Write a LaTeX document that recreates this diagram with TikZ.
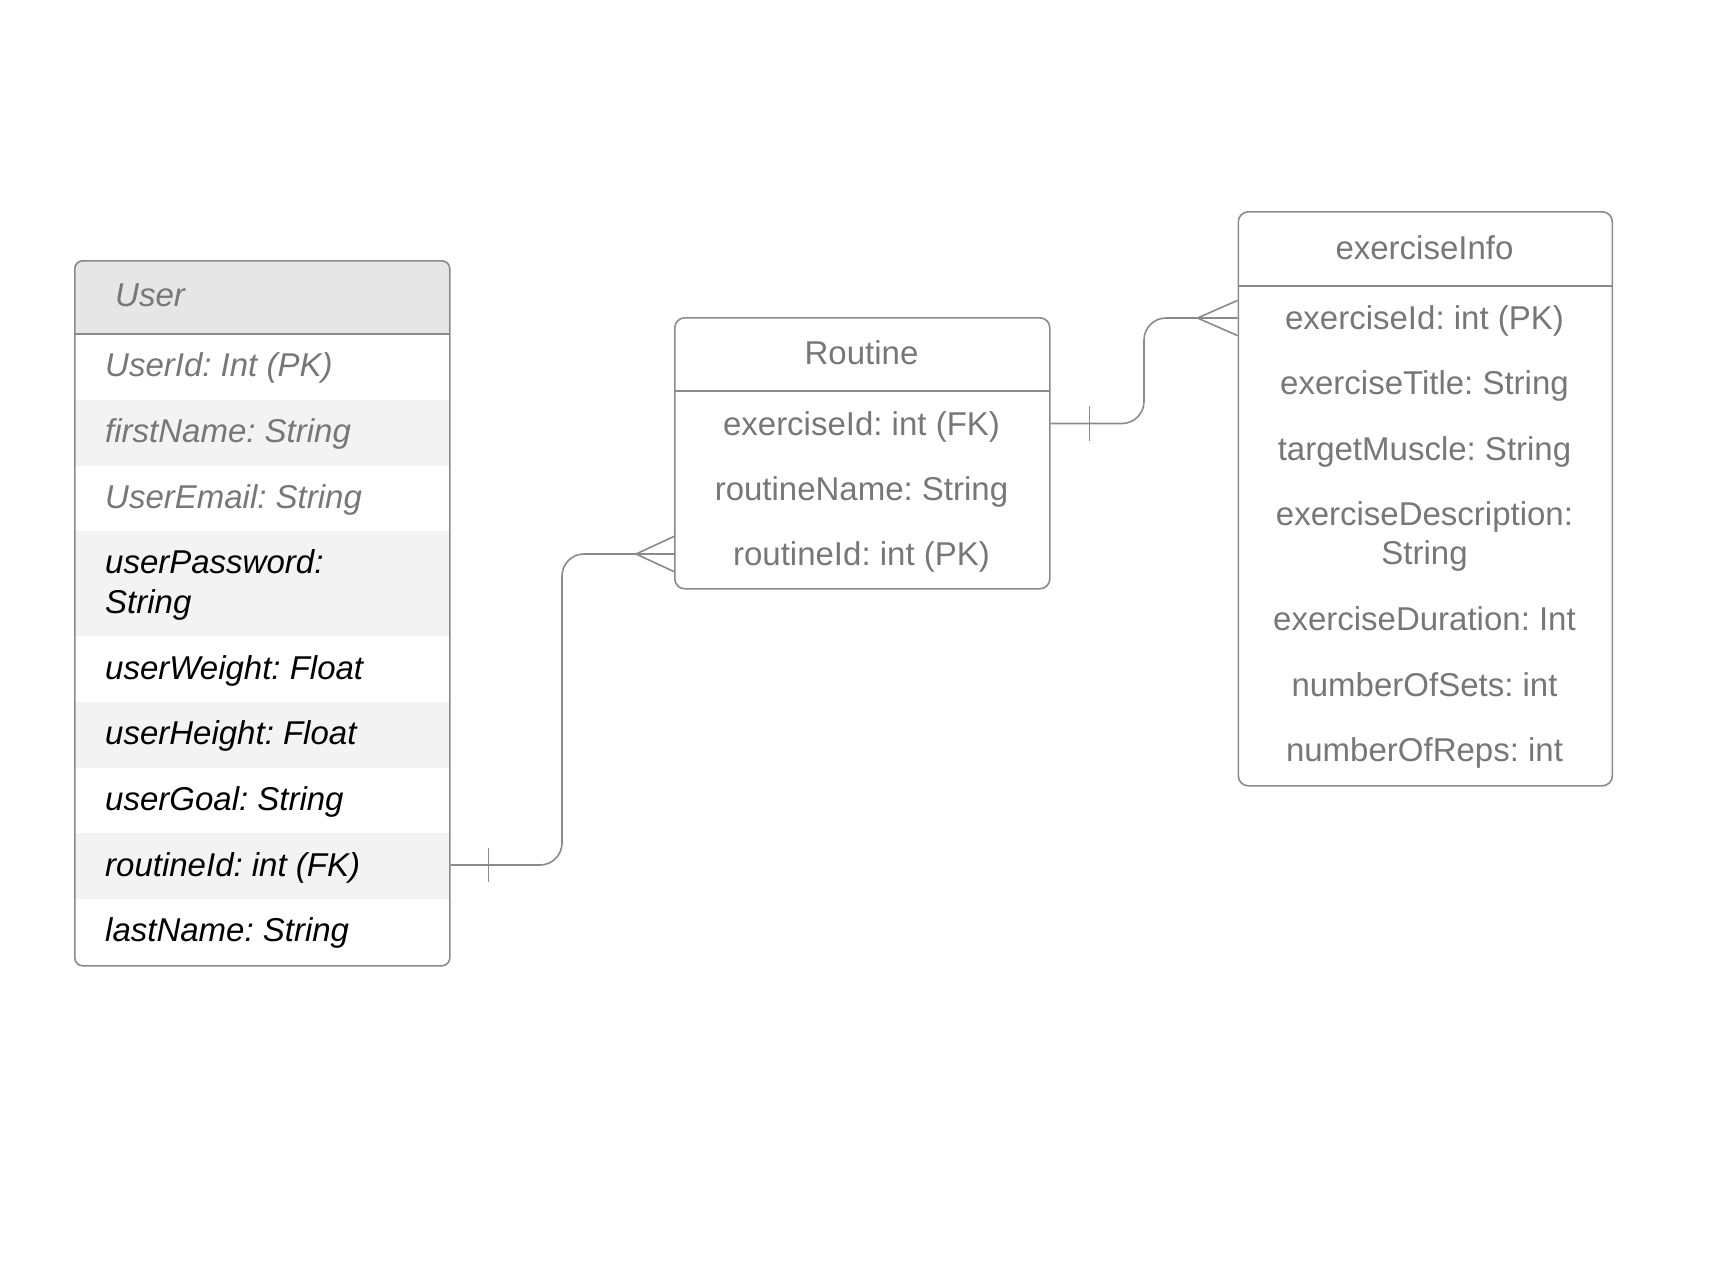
\documentclass[tikz,border=0pt]{standalone}
\usepackage{fontspec}
\setmainfont{Liberation Sans}
\frenchspacing
\definecolor{bordergray}{HTML}{8A8A8A}
\definecolor{txtgray}{HTML}{777777}
\definecolor{hdrfill}{HTML}{E6E6E6}
\definecolor{rowfill}{HTML}{F3F3F3}
\begin{document}
\frenchspacing
\begin{tikzpicture}[x=1pt,y=-1pt,
  boxline/.style={draw=bordergray, line width=1.6pt, rounded corners=10pt, inner sep=0pt, anchor=north west},
  sepline/.style={draw=bordergray, line width=1.6pt},
  conn/.style={draw=bordergray, line width=1.6pt},
  ftext/.style={font=\fontsize{33}{40}\selectfont, inner sep=0pt, text height=23.6pt, text depth=0pt},
  grayt/.style={ftext, text=txtgray},
  blackt/.style={ftext, text=black},
  ital/.style={font=\fontsize{33}{40}\selectfont\itshape}
]
\useasboundingbox (0,0) rectangle (1725,1266);

% ---------- User table fills ----------
\begin{scope}
  \clip[rounded corners=8pt] (74,260) rectangle (449,965);
  \fill[hdrfill] (74,260) rectangle (449,334);
  \fill[rowfill] (74,400) rectangle (449,466);
  \fill[rowfill] (74,531) rectangle (449,636);
  \fill[rowfill] (74,702) rectangle (449,768);
  \fill[rowfill] (74,833) rectangle (449,899);
\end{scope}
\node[boxline, rounded corners=8pt, minimum width=375pt, minimum height=705pt] (user) at (74,260) {};
\draw[sepline] (74,334) -- (449,334);

\node[grayt, ital, anchor=west] (uhead) at (115,295) {User};
\node[grayt, ital, anchor=west] (uid) at (105,365) {UserId: Int (PK)};
\node[grayt, ital, anchor=west] (ufirst) at (105,431) {firstName: String};
\node[grayt, ital, anchor=west] (uemail) at (105,497) {UserEmail: String};
\node[blackt, ital, anchor=west] (upass) at (105,562) {userPassword:};
\node[blackt, ital, anchor=west] (upass2) at (105,602) {String};
\node[blackt, ital, anchor=west] (uweight) at (105,668) {userWeight: Float};
\node[blackt, ital, anchor=west] (uheight) at (105,733) {userHeight: Float};
\node[blackt, ital, anchor=west] (ugoal) at (105,799) {userGoal: String};
\node[blackt, ital, anchor=west] (ufk) at (105,865) {routineId: int (FK)};
\node[blackt, ital, anchor=west] (ulast) at (105,930) {lastName: String};

% ---------- Routine table ----------
\node[boxline, minimum width=375pt, minimum height=271pt] (routine) at (674,317) {};
\draw[sepline] (674,391) -- (1049,391);
\node[grayt] (rhead) at (861.5,353) {Routine};
\node[grayt] (rfk) at (861.5,423.5) {exerciseId: int (FK)};
\node[grayt] (rname) at (861.5,488.5) {routineName: String};
\node[grayt] (rpk) at (861.5,554) {routineId: int (PK)};

% ---------- exerciseInfo table ----------
\node[boxline, minimum width=374pt, minimum height=574pt] (exinfo) at (1237.5,211) {};
\draw[sepline] (1237.5,286) -- (1611.5,286);
\node[grayt] (ehead) at (1424.5,247.5) {exerciseInfo};
\node[grayt] (eid) at (1424.5,318) {exerciseId: int (PK)};
\node[grayt] (etitle) at (1424.5,383) {exerciseTitle: String};
\node[grayt] (emuscle) at (1424.5,449) {targetMuscle: String};
\node[grayt] (edesc) at (1424.5,514) {exerciseDescription:};
\node[grayt] (edesc2) at (1424.5,553) {String};
\node[grayt] (edur) at (1424.5,619) {exerciseDuration: Int};
\node[grayt] (esets) at (1424.5,685) {numberOfSets: int};
\node[grayt] (ereps) at (1424.5,750) {numberOfReps: int};

% ---------- connectors ----------
\coordinate (bendA) at (562,0);
\coordinate (bendB) at (1144,0);
\coordinate (uout) at (user.east |- ufk);
\coordinate (rin) at (routine.west |- rpk);
\coordinate (rout) at (routine.east |- rfk);
\coordinate (ein) at (exinfo.west |- eid);

% User -> Routine
\draw[conn, rounded corners=22pt] (uout) -- (bendA |- uout) -- (bendA |- rin) -- (rin);
\draw[conn] ([xshift=38pt]uout) ++(0,-17) -- ++(0,34);
\draw[conn] ([xshift=-38pt]rin) -- ([yshift=17.6pt]rin);
\draw[conn] ([xshift=-38pt]rin) -- ([yshift=-17.6pt]rin);

% Routine -> exerciseInfo
\draw[conn, rounded corners=22pt] (rout) -- (bendB |- rout) -- (bendB |- ein) -- (ein);
\draw[conn] ([xshift=39pt]rout) ++(0,-17.5) -- ++(0,35);
\draw[conn] ([xshift=-40pt]ein) -- ([yshift=17.6pt]ein);
\draw[conn] ([xshift=-40pt]ein) -- ([yshift=-17.6pt]ein);
\end{tikzpicture}
\end{document}
